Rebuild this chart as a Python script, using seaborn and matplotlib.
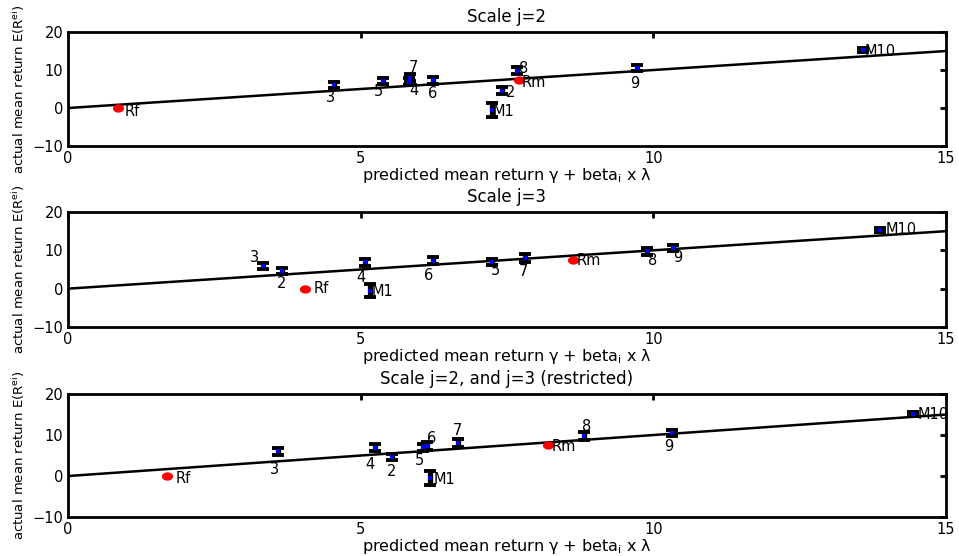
import numpy as np
import matplotlib
matplotlib.use("Agg")
import matplotlib.pyplot as plt
from matplotlib.path import Path
import seaborn as sns

# Test portfolios: actual mean excess returns with standard-error bars
portfolios = ["M1", "2", "3", "4", "5", "6", "7", "8", "9", "M10"]
actual_mean = [-0.5, 4.6, 6.0, 6.9, 7.0, 7.3, 8.0, 9.8, 10.5, 15.2]
actual_err = [1.8, 0.8, 0.8, 0.9, 0.8, 0.9, 1.0, 0.9, 0.8, 0.5]

# Predicted mean returns for each wavelet scale specification
pred_j2 = [7.25, 7.42, 4.55, 5.82, 5.39, 6.23, 5.85, 7.67, 9.73, 13.59]
pred_j3 = [5.16, 3.65, 3.33, 5.08, 7.25, 6.23, 7.81, 9.90, 10.34, 13.88]
pred_j23 = [6.19, 5.53, 3.59, 5.25, 6.07, 6.13, 6.67, 8.82, 10.32, 14.44]

# Risk-free rate and market portfolio
ref_names = ["Rf", "Rm"]
ref_actual = [0.0, 7.5]
ref_pred_j2 = [0.85, 7.70]
ref_pred_j3 = [4.05, 8.63]
ref_pred_j23 = [1.69, 8.20]

# 45-degree line: predicted equals actual
line_x = [0, 15]
line_y = [0, 15]

titles = ["Scale j=2", "Scale j=3", "Scale j=2, and j=3 (restricted)"]
x_ticks = [0, 5, 10, 15]
y_ticks = [-10, 0, 10, 20]

# label offsets (pixels, up positive) relative to each point
label_offsets = [
    {"M1": (11, -2), "2": (8, -2), "3": (-4, -12), "4": (5, -9), "5": (-5, -10),
     "6": (0, -13), "7": (3, 10), "8": (7, 2), "9": (-3, -15), "M10": (17, -1),
     "Rf": (15, -3), "Rm": (15, -3)},
    {"M1": (12, -1), "2": (0, -12), "3": (-8, 8), "4": (-4, -15), "5": (3, -9),
     "6": (-4, -15), "7": (-2, -14), "8": (5, -9), "9": (5, -9), "M10": (21, 1),
     "Rf": (16, 0), "Rm": (16, -1)},
    {"M1": (14, -1), "2": (0, -14), "3": (-4, -18), "4": (-5, -17), "5": (-4, -13),
     "6": (5, 8), "7": (-1, 13), "8": (2, 9), "9": (-3, -14), "M10": (20, -1),
     "Rf": (16, -2), "Rm": (16, -1)},
]

sns.set_theme(style="white")
plt.rcParams["font.family"] = ["DejaVu Sans"]
plt.rcParams["mathtext.default"] = "regular"
plt.rcParams["text.color"] = "black"
plt.rcParams["axes.labelcolor"] = "black"
plt.rcParams["xtick.color"] = "black"
plt.rcParams["ytick.color"] = "black"

fig = plt.figure(figsize=(9.59, 5.56), dpi=100)
positions = [
    [0.0709, 0.7374, 0.9155, 0.2050],
    [0.0709, 0.4119, 0.9155, 0.2068],
    [0.0709, 0.0701, 0.9155, 0.2212],
]

# slightly wide oval marker for Rf / Rm
theta = np.linspace(0, 2 * np.pi, 40)
oval = Path(np.column_stack([1.35 * np.cos(theta), np.sin(theta)]), closed=True)

panels = [(pred_j2, ref_pred_j2), (pred_j3, ref_pred_j3), (pred_j23, ref_pred_j23)]

for i, (pred, ref_pred) in enumerate(panels):
    ax = fig.add_axes(positions[i])

    sns.lineplot(x=line_x, y=line_y, color="black", linewidth=1.8, ax=ax, zorder=2)
    ax.errorbar(pred, actual_mean, yerr=actual_err, fmt="none", ecolor="black",
                elinewidth=3.8, capsize=4.5, capthick=2.8, zorder=3)
    sns.scatterplot(x=pred, y=actual_mean, color=(0, 0, 1), marker="s", s=8,
                    linewidth=0, ax=ax, zorder=4)
    sns.scatterplot(x=ref_pred, y=ref_actual, color=(1, 0, 0), marker=oval, s=65,
                    linewidth=0, ax=ax, zorder=5)

    offs = label_offsets[i]
    for name, xv, yv in zip(portfolios + ref_names, pred + ref_pred, actual_mean + ref_actual):
        dx, dy = offs[name]
        ax.annotate(name, (xv, yv), xytext=(dx, dy), textcoords="offset pixels",
                    ha="center", va="center", fontsize=10.5, color="black", zorder=6)

    ax.set_xlim(0, 15)
    ax.set_ylim(-10, 20)
    ax.set_xticks(x_ticks)
    ax.set_yticks(y_ticks)
    ax.tick_params(direction="in", top=True, right=True, length=4, width=2,
                   labelsize=10.5, pad=3.5, colors="black")
    for sp in ax.spines.values():
        sp.set_linewidth(2)
        sp.set_color("black")
    ax.set_title(titles[i], fontsize=12, pad=7, color="black")
    ax.set_xlabel(r"predicted mean return γ + beta$_{i}$ x λ", fontsize=11.5, labelpad=0)
    ax.set_ylabel(r"actual mean return E(R$^{ei}$)", fontsize=9.5, labelpad=4)

fig.savefig("out.png", dpi=100)
